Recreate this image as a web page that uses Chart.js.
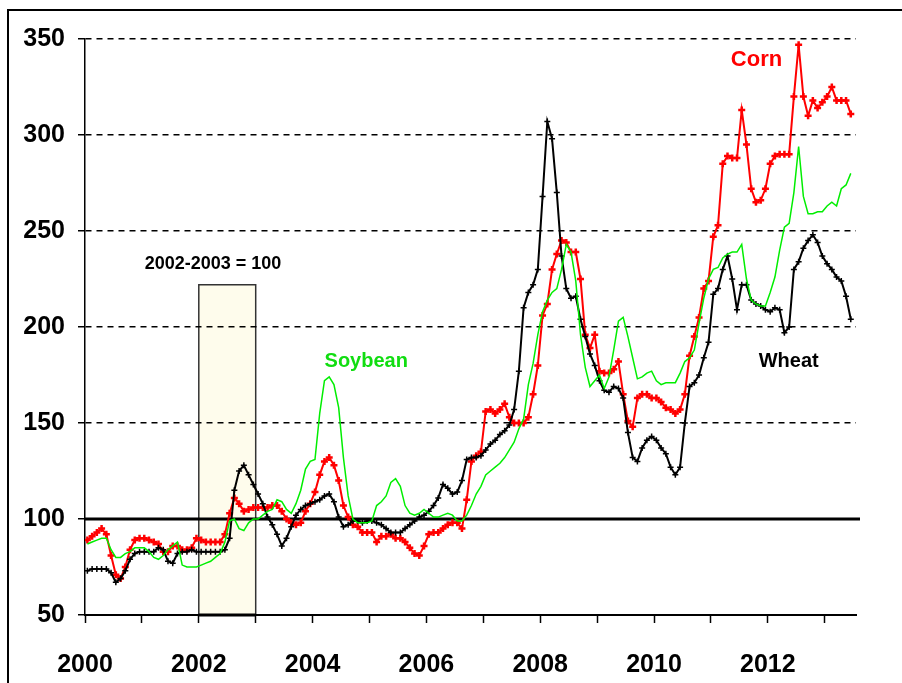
<!DOCTYPE html>
<html>
<head>
<meta charset="utf-8">
<script src="https://cdn.jsdelivr.net/npm/chart.js@4.4.1/dist/chart.umd.min.js"></script>
<style>
    html, body { margin: 0; padding: 0; background: #fff; overflow: hidden; }
    #wrap { position: relative; width: 902px; height: 683px; }
    #frame { position: absolute; left: 7px; top: 9px; width: 1000px; height: 800px; border: 2px solid #000; pointer-events: none; }
</style>
</head>
<body>
<div id="wrap">
    <canvas id="priceChart" width="902" height="683"></canvas>
    <div id="frame"></div>
</div>
<script>
// monthly price index, 2002-2003 = 100, Jan 2000 .. Jun 2013
const startYear = 2000;

const corn = [
    89, 91, 93, 95, 92, 81, 71, 69, 75, 84, 89, 90,
    90, 89, 88, 87, 83, 83, 86, 86, 84, 84, 85, 90,
    89, 88, 88, 88, 88, 92, 103, 111, 108, 104, 105, 106,
    106, 106, 106, 107, 107, 104, 100, 98, 97, 98, 104, 108,
    114, 123, 130, 132, 128, 120, 107, 101, 97, 96, 93, 93,
    93, 88, 91, 91, 92, 90, 90, 88, 85, 82, 81, 86,
    92, 93, 93, 95, 97, 98, 98, 95, 110, 130, 133, 135,
    156, 157, 155, 157, 160, 153, 150, 150, 150, 153, 165, 180,
    206, 212, 230, 238, 245, 244, 239, 239, 225, 196, 189, 196,
    177, 176, 176, 178, 182, 165, 151, 148, 163, 165, 165, 163,
    163, 161, 158, 157, 155, 157, 165, 185, 195, 205, 220, 224,
    247, 253, 285, 289, 288, 288, 313, 295, 272, 265, 266, 272,
    285, 289, 290, 290, 290, 320, 347, 320, 310, 318, 314, 317,
    320, 325, 318, 318, 318, 311
];

const soybean = [
    87, 88, 89, 90, 90, 84, 80, 80, 82, 83, 85, 85,
    85, 83, 80, 79, 81, 84, 86, 88, 76, 75, 75, 75,
    76, 77, 78, 80, 82, 88, 99, 100, 95, 94, 98, 100,
    100, 102, 104, 105, 110, 109, 105, 103, 108, 115, 126, 130,
    131, 155, 172, 174, 170, 158, 132, 112, 100, 98, 98, 98,
    99, 107, 109, 112, 119, 121, 117, 107, 103, 102, 103, 105,
    103, 101, 101, 102, 103, 102, 99, 99, 102, 107, 113, 117,
    123, 125, 127, 129, 132, 136, 140, 147, 152, 170, 181, 196,
    208, 214, 218, 220, 230, 243, 239, 224, 196, 179, 169, 172,
    175, 168, 174, 188, 203, 205, 195, 184, 173, 174, 176, 177,
    172, 170, 171, 171, 171, 176, 182, 184, 188, 202, 215, 225,
    230, 231, 236, 238, 239, 239, 243, 225, 214, 212, 211, 211,
    218, 226, 240, 252, 254, 270, 294, 268, 259, 259, 260, 260,
    263, 265, 263, 272, 274, 280
];

const wheat = [
    73, 74, 74, 74, 74, 72, 67, 69, 73, 79, 82, 83,
    83, 83, 83, 85, 84, 78, 77, 82, 83, 83, 84, 83,
    83, 83, 83, 83, 83, 84, 90, 115, 125, 128, 123, 118,
    113, 108, 101, 97, 92, 86, 90, 96, 102, 105, 107, 108,
    109, 110, 112, 113, 109, 101, 96, 97, 99, 99, 98, 99,
    99, 98, 97, 95, 93, 93, 93, 95, 97, 99, 101, 102,
    104, 107, 111, 118, 116, 113, 114, 120, 131, 132, 132, 133,
    136, 139, 141, 144, 146, 149, 157, 177, 210, 218, 222, 230,
    268, 307, 298, 270, 237, 220, 215, 216, 204, 195, 186, 180,
    172, 167, 166, 169, 168, 163, 145, 132, 130, 137, 141, 143,
    141, 137, 134, 127, 123, 127, 150, 169, 171, 175, 184, 192,
    217, 220, 230, 237, 225, 209, 222, 222, 214, 212, 211, 209,
    208, 210, 209, 197, 200, 230, 234, 241, 245, 248, 244, 237,
    233, 230, 226, 224, 216, 204
];

const tickYears = [2000, 2001, 2002, 2003, 2004, 2005, 2006, 2007, 2008, 2009, 2010, 2011, 2012, 2013];
const labelYears = [2000, 2002, 2004, 2006, 2008, 2010, 2012];
const yTicks = [50, 100, 150, 200, 250, 300, 350];

// base period box
const basePeriod = [2002, 2003];
const baseBoxTop = 222;

const notes = [
    { text: 'Corn', x: 2011.35, y: 339, color: '#ff0000', size: 22, align: 'left' },
    { text: 'Soybean', x: 2004.21, y: 182, color: '#11dd11', size: 20, align: 'left' },
    { text: 'Wheat', x: 2011.84, y: 182, color: '#000000', size: 20, align: 'left' },
    { text: '2002-2003 = 100', x: 2002.25, y: 233, color: '#000000', size: 18, align: 'center' }
];

const FONT = "'Liberation Sans', Arial, sans-serif";

// month mid-points as decimal years
const toPoints = (arr) => arr.map((v, i) => ({ x: startYear + (i + 0.5) / 12, y: v }));

const overlayPlugin = {
    id: 'overlay',
    beforeDraw(chart) {
        const { ctx, scales: { x, y } } = chart;
        const x0 = x.getPixelForValue(basePeriod[0]);
        const x1 = x.getPixelForValue(basePeriod[1]);
        const yt = y.getPixelForValue(baseBoxTop);
        const yb = y.getPixelForValue(50);
        ctx.save();
        ctx.fillStyle = '#fefcec';
        ctx.fillRect(x0, yt, x1 - x0, yb - yt);
        ctx.strokeStyle = '#333';
        ctx.lineWidth = 1.5;
        ctx.strokeRect(x0, yt, x1 - x0, yb - yt);
        ctx.restore();
    },
    beforeDatasetsDraw(chart) {
        const { ctx, chartArea, scales: { x, y } } = chart;
        const y100 = y.getPixelForValue(100);
        ctx.save();
        ctx.strokeStyle = '#000';
        ctx.lineWidth = 3;
        ctx.beginPath();
        ctx.moveTo(chartArea.left, y100);
        ctx.lineTo(chartArea.right + 4, y100);
        ctx.stroke();
        // heavier base under the box
        ctx.beginPath();
        ctx.moveTo(x.getPixelForValue(basePeriod[0]), y.getPixelForValue(50));
        ctx.lineTo(x.getPixelForValue(basePeriod[1]), y.getPixelForValue(50));
        ctx.stroke();
        ctx.restore();
    },
    afterDatasetsDraw(chart) {
        const { ctx, scales: { x, y } } = chart;
        ctx.save();
        ctx.textBaseline = 'middle';
        notes.forEach(n => {
            ctx.font = `bold ${n.size}px ${FONT}`;
            ctx.fillStyle = n.color;
            ctx.textAlign = n.align;
            ctx.fillText(n.text, x.getPixelForValue(n.x), y.getPixelForValue(n.y));
        });
        ctx.restore();
    }
};

const ctx = document.getElementById('priceChart');
new Chart(ctx, {
    type: 'line',
    data: {
        datasets: [
            {
                label: 'Soybean',
                data: toPoints(soybean),
                borderColor: '#00ee00',
                borderWidth: 1.5,
                pointRadius: 0,
                tension: 0
            },
            {
                label: 'Wheat',
                data: toPoints(wheat),
                borderColor: '#000000',
                borderWidth: 2,
                pointStyle: 'cross',
                pointRadius: 3,
                pointBorderWidth: 1.5,
                pointBorderColor: '#000000',
                tension: 0
            },
            {
                label: 'Corn',
                data: toPoints(corn),
                borderColor: '#ff0000',
                borderWidth: 2,
                pointStyle: 'cross',
                pointRadius: 3.5,
                pointBorderWidth: 2.5,
                pointBorderColor: '#ff0000',
                tension: 0
            }
        ]
    },
    options: {
        responsive: false,
        animation: false,
        layout: { padding: { left: 0, right: 46, top: 39, bottom: 0 } },
        plugins: {
            legend: { display: false },
            tooltip: { enabled: false }
        },
        scales: {
            x: {
                type: 'linear',
                min: 2000,
                max: 2013.55,
                afterBuildTicks: (s) => { s.ticks = tickYears.map(v => ({ value: v })); },
                afterFit: (s) => { s.height = 68; },
                ticks: {
                    autoSkip: false,
                    maxRotation: 0,
                    padding: 27,
                    color: '#000',
                    font: { family: FONT, size: 25, weight: 'bold' },
                    callback: (v) => labelYears.includes(v) ? String(v) : ''
                },
                grid: {
                    drawOnChartArea: false,
                    drawTicks: true,
                    tickLength: 8,
                    tickColor: '#000',
                    tickWidth: 1.5
                },
                border: { color: '#000', width: 2 }
            },
            y: {
                min: 50,
                max: 350,
                afterBuildTicks: (s) => { s.ticks = yTicks.map(v => ({ value: v })); },
                afterFit: (s) => { s.width = 85; },
                ticks: {
                    padding: 13,
                    color: '#000',
                    font: { family: FONT, size: 25, weight: 'bold' }
                },
                grid: {
                    color: (c) => (c.tick && (c.tick.value === 50 || c.tick.value === 100)) ? 'rgba(0,0,0,0)' : '#000',
                    lineWidth: 1.5,
                    drawTicks: true,
                    tickLength: 7,
                    tickColor: '#000',
                    tickWidth: 1.5
                },
                border: { color: '#000', width: 1.5, dash: [6, 5] }
            }
        }
    },
    plugins: [overlayPlugin]
});
</script>
</body>
</html>
